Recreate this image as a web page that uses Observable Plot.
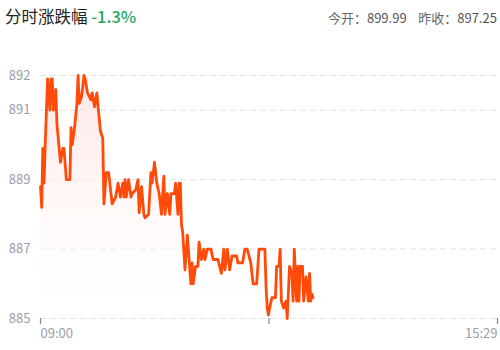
<!DOCTYPE html>
<html><head><meta charset="utf-8">
<script src="https://cdn.jsdelivr.net/npm/d3@7"></script>
<script src="https://cdn.jsdelivr.net/npm/@observablehq/plot@0.6"></script>
<style>
body{margin:0;background:#fff;font-family:"Noto Sans CJK SC","Noto Sans",sans-serif;}
#wrap{width:500px;height:350px;position:relative;overflow:hidden;}
#hdr{height:40px;position:relative;}
#title{position:absolute;left:5px;top:4px;font-size:16.5px;color:#222;}
#chg{color:#27a567;font-weight:500;}
#info{position:absolute;right:3px;top:8px;font-size:13px;color:#666;}
#info span.v{color:#555;}
</style></head>
<body><div id="wrap"><div id="hdr"><div id="title"></div><div id="info"></div></div><div id="chart"></div></div>
<script>
const titleText = "分时涨跌幅";
const changeText = "-1.3%";
const openLabel = "今开：", openValue = "899.99";
const prevLabel = "昨收：", prevValue = "897.25";

const minutes = [0,1,2,3,4,6,8,9,10,11,13,14,17,19,20,22,25,26,27,29,31,32,33,35,37,38,40,43,44,46,48,49,51,53,54,56,58,61,64,66,68,70,71,72,73,75,77,78,81,83,84,86,88,89,92,94,95,97,99,101,103,105,106,108,110,111,114,115,117,118,119,120,121,123,125,128,129,130,132,134,135,137,139,140,142,145,147,151,154,156,157,159,161,163,167,168,172,174,176,179,181,184,186,188,191,192,193,194,195,197,200,201,203,204,205,207,209,210,212,214,215,216,218,219,220,221,223,224,226,228,229,230,231,232];
const prices = [888.8,888.2,889.9,888.9,890.0,891.9,891.0,891.9,891.9,891.0,891.6,890.6,889.5,889.9,889.9,889.0,889.0,890.5,890.0,890.5,891.2,892.0,891.2,891.4,892.0,891.9,891.5,891.3,891.5,891.1,891.5,891.1,890.4,890.2,888.3,889.2,889.2,888.3,888.5,888.9,888.5,888.9,888.5,889.0,888.5,889.0,888.5,888.6,888.7,889.0,888.05,888.8,888.0,887.9,888.0,889.2,888.9,889.5,888.9,888.6,888.0,889.1,888.0,888.6,888.0,888.6,888.6,888.9,888.0,888.9,888.9,887.7,887.5,886.4,887.4,886.0,886.6,886.0,886.5,886.5,887.2,886.7,887.0,886.7,887.0,887.0,886.7,886.7,886.3,887.0,886.4,887.0,886.4,886.8,886.8,886.6,886.6,887.0,887.0,886.6,886.0,886.0,887.0,887.0,887.0,885.9,885.3,885.1,885.3,885.6,885.6,886.5,886.5,887.0,885.5,885.3,885.5,885.0,886.5,886.3,885.5,887.0,885.5,886.5,885.5,886.5,886.5,885.5,886.2,885.5,886.3,885.5,885.7,885.6];
const yTicks = [885,887,889,891,892];
const xTicks = [0,194.5,389];
const xStartLabel = "09:00", xEndLabel = "15:29";

document.getElementById("title").innerHTML = titleText + ' <span id="chg">' + changeText + '</span>';
document.getElementById("info").innerHTML = openLabel + '<span class="v">' + openValue + '</span>&nbsp;&nbsp;&nbsp;&nbsp;' + prevLabel + '<span class="v">' + prevValue + '</span>';

const data = minutes.map((m,i)=>({m, p:prices[i]}));
const labelFont = {fontSize:13, fill:"#9a9eaa"};

const chart = Plot.plot({
  width:500, height:310,
  marginTop:35, marginBottom:32, marginLeft:40, marginRight:3,
  style:{fontFamily:"'Noto Sans CJK SC','Noto Sans',sans-serif", fontSize:"13px", color:"#9a9eaa", background:"transparent"},
  x:{domain:[0,389], label:null},
  y:{domain:[885,892], label:null},
  marks:[
    Plot.ruleY(yTicks,{stroke:"#e3e3e3", strokeDasharray:"6,4", strokeWidth:1}),
    Plot.axisY({ticks:yTicks, tickSize:0, tickPadding:10, tickFormat:d=>String(d), label:null, fontSize:13, fill:"#9a9eaa"}),
    Plot.axisX({ticks:xTicks, tickSize:6, tickFormat:()=>"", label:null, stroke:"#888", strokeWidth:1.2}),
    Plot.text([xTicks[0]],{x:d=>d, y:885, dy:15, text:()=>xStartLabel, textAnchor:"start", ...labelFont}),
    Plot.text([xTicks[2]],{x:d=>d, y:885, dy:15, text:()=>xEndLabel, textAnchor:"end", ...labelFont}),
    Plot.areaY(data,{x:"m", y1:885, y2:"p", fill:"url(#pinkgrad)"}),
    Plot.lineY(data,{x:"m", y:"p", stroke:"#ff4a0a", strokeWidth:2.8, strokeLinejoin:"round"})
  ]
});
chart.insertAdjacentHTML("afterbegin", '<defs><linearGradient id="pinkgrad" x1="0" y1="0" x2="0" y2="1"><stop offset="0%" stop-color="#fde3e0" stop-opacity="0.9"/><stop offset="100%" stop-color="#fff" stop-opacity="0.2"/></linearGradient></defs>');
document.getElementById("chart").appendChild(chart);
</script></body></html>
